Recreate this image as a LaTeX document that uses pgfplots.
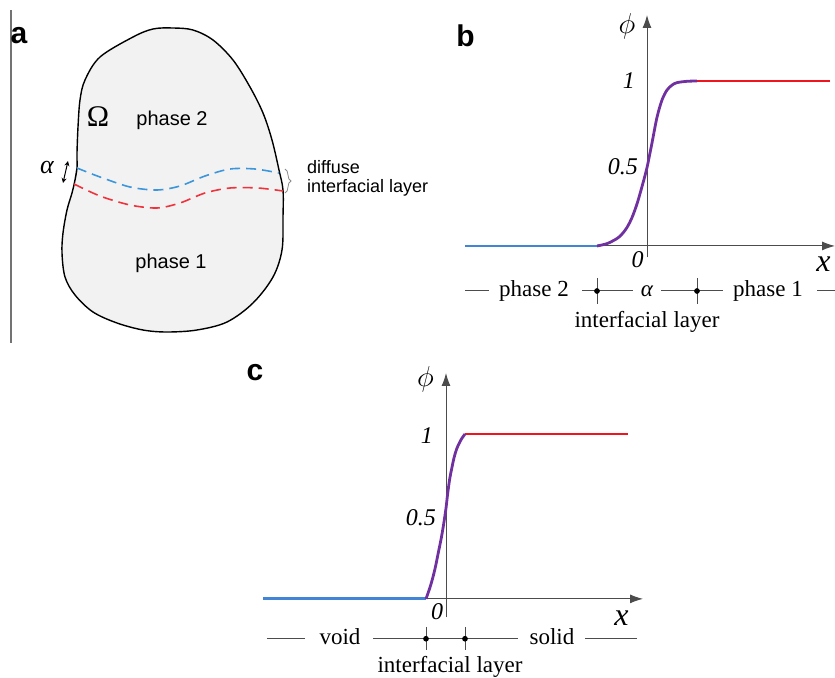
\documentclass[border=0pt]{standalone}
\usepackage{pgfplots}
\pgfplotsset{compat=1.18}
\usepackage{fontspec}
\setmainfont{Liberation Serif}
\newfontfamily\sansf{Liberation Sans}
\usetikzlibrary{arrows.meta,decorations.pathreplacing}
\definecolor{cblue}{RGB}{66,133,215}
\definecolor{cred}{RGB}{240,20,30}
\definecolor{cpurple}{RGB}{112,48,160}
\definecolor{cdblue}{RGB}{60,150,220}
\definecolor{cdred}{RGB}{240,50,60}
\definecolor{cfill}{RGB}{242,242,242}
\newcommand{\lab}{\fontsize{11.5}{13}\selectfont}
\newcommand{\num}{\fontsize{12}{14}\itshape\selectfont}
\begin{document}
\begin{tikzpicture}
\useasboundingbox (0,0) rectangle (417.5pt,-339pt);
% ---------------- panel a ----------------
\begin{axis}[at={(75pt,-86.25pt)}, anchor=center, scale only axis,
  width=150pt, height=172.5pt, xmin=0, xmax=300, ymin=0, ymax=345,
  y dir=reverse, hide axis, clip=false]
\addplot[smooth, tension=0.55, draw=black, line width=0.7pt, fill=cfill] coordinates {
 (77,168) (75,180) (72,193) (67,210) (63,233) (62,253) (65,277) (75,295) (93,312)
 (117,323) (143,330) (167,332) (197,330) (227,322) (253,303) (273,277) (282,250)
 (283,217) (283,190) (279,170) (272,140) (263,113) (250,87) (233,60) (213,40)
 (193,30) (173,28) (153,29) (133,37) (100,57) (85,80) (80,100) (78,127) (77,153)
 (77,168) (75,180)};
\addplot[smooth, cdblue, line width=0.8pt, dash pattern=on 5pt off 3pt] coordinates {
 (77,168) (100,177) (130,187) (157,190) (180,186) (205,176) (230,169) (255,169) (279,173)};
\addplot[smooth, cdred, line width=0.8pt, dash pattern=on 5pt off 3pt] coordinates {
 (74,184) (100,196) (130,205) (157,208) (180,203) (205,193) (230,188) (258,188) (283,191)};
\addplot[black!55, line width=0.9pt] coordinates {(11,10) (11,343)};
\draw[{Stealth[length=2.5pt,width=2.5pt]}-{Stealth[length=2.5pt,width=2.5pt]}, line width=0.5pt]
  (axis cs:68,161) -- (axis cs:63,183);
\draw[black!45, line width=0.4pt, decorate, decoration={brace, amplitude=3pt}]
  (axis cs:285,169) -- (axis cs:285,193);
\node[font=\fontsize{15}{16}\selectfont] at (axis cs:98,117) {Ω};
\node[font=\sansf\fontsize{10}{12}\selectfont] at (axis cs:172,120) {phase 2};
\node[font=\sansf\fontsize{10}{12}\selectfont] at (axis cs:171,263) {phase 1};
\node[font=\fontsize{13}{14}\itshape\selectfont] at (axis cs:47,168) {α};
\node[font=\sansf\fontsize{9}{10.5}\selectfont, anchor=west] at (axis cs:300,167) {diffuse};
\node[font=\sansf\fontsize{9}{10.5}\selectfont, anchor=west] at (axis cs:300,188) {interfacial layer};
\end{axis}
\node[font=\sansf\bfseries\fontsize{15}{16}\selectfont] at (9.5pt,-18pt) {a};
\node[font=\sansf\bfseries\fontsize{15}{16}\selectfont] at (232.75pt,-18pt) {b};
\node[font=\sansf\bfseries\fontsize{15}{16}\selectfont] at (127.5pt,-186.25pt) {c};
% ---------------- panel b ----------------
\begin{axis}[at={(232.5pt,-128.75pt)}, anchor=south west, scale only axis,
  width=185pt, height=121.25pt, xmin=-1.82, xmax=1.88, ymin=-0.07, ymax=1.4,
  axis lines=middle, axis line style={-{Latex[length=6.5pt,width=4.5pt]}, black!70, line width=0.5pt},
  xtick=\empty, ytick=\empty, clip=false]
\addplot[cblue, line width=1.4pt] coordinates {(-1.82,0) (-0.5,0)};
\addplot[cred, line width=1.4pt] coordinates {(0.5,1) (1.83,1)};
\addplot[cpurple, line width=1.4pt, smooth] coordinates {
 (-0.5,0) (-0.4,0.014) (-0.3,0.045) (-0.25,0.072) (-0.2,0.112) (-0.15,0.172)
 (-0.1,0.255) (-0.05,0.36) (0,0.475) (0.05,0.625) (0.1,0.78) (0.15,0.885)
 (0.2,0.945) (0.25,0.975) (0.3,0.99) (0.4,0.998) (0.5,1)};
\node[font=\num, anchor=east] at (axis cs:-0.05,1) {1};
\node[font=\num, anchor=east] at (axis cs:-0.02,0.48) {0.5};
\node[font=\num] at (axis cs:-0.095,-0.08) {0};
\node[font=\fontsize{16}{17}\itshape\selectfont] at (axis cs:1.765,-0.11) {x};
\node[font=\fontsize{15}{16}\selectfont] at (axis cs:-0.2,1.33) {$\phi$};
% annotation
\addplot[black!70, line width=0.5pt] coordinates {(-1.82,-0.273) (-1.58,-0.273)};
\addplot[black!70, line width=0.5pt] coordinates {(-0.65,-0.273) (-0.14,-0.273)};
\addplot[black!70, line width=0.5pt] coordinates {(0.14,-0.273) (0.76,-0.273)};
\addplot[black!70, line width=0.5pt] coordinates {(1.70,-0.273) (1.88,-0.273)};
\addplot[black!70, line width=0.5pt] coordinates {(-0.5,-0.194) (-0.5,-0.352)};
\addplot[black!70, line width=0.5pt] coordinates {(0.5,-0.194) (0.5,-0.352)};
\addplot[only marks, mark=*, mark size=1.2pt, black] coordinates {(-0.5,-0.273) (0.5,-0.273)};
\node[font=\lab, anchor=base] at (axis cs:-1.13,-0.309) {phase 2};
\node[font=\lab\itshape, anchor=base] at (axis cs:0,-0.309) {α};
\node[font=\lab, anchor=base] at (axis cs:1.21,-0.309) {phase 1};
\node[font=\lab, anchor=base] at (axis cs:0,-0.497) {interfacial layer};
\end{axis}
% ---------------- panel c ----------------
\begin{axis}[at={(131.5pt,-308.5pt)}, anchor=south west, scale only axis,
  width=190pt, height=122pt, xmin=-1.83, xmax=1.97, ymin=-0.11, ymax=1.37,
  axis lines=middle, axis line style={-{Latex[length=6.5pt,width=4.5pt]}, black!70, line width=0.5pt},
  xtick=\empty, ytick=\empty, clip=false]
\addplot[cblue, line width=1.4pt] coordinates {(-1.83,0) (-0.2,0)};
\addplot[cred, line width=1.4pt] coordinates {(0.19,1) (1.82,1)};
\addplot[cpurple, line width=1.4pt, smooth] coordinates {
 (-0.2,0) (-0.16,0.07) (-0.127,0.14) (-0.1,0.21) (-0.077,0.28) (-0.05,0.36)
 (-0.027,0.44) (0,0.55) (0.013,0.62) (0.035,0.72) (0.057,0.79) (0.08,0.855)
 (0.107,0.91) (0.15,0.965) (0.19,1)};
\node[font=\num, anchor=east] at (axis cs:-0.06,0.99) {1};
\node[font=\num, anchor=east] at (axis cs:-0.03,0.49) {0.5};
\node[font=\num] at (axis cs:-0.09,-0.076) {0};
\node[font=\fontsize{16}{17}\itshape\selectfont] at (axis cs:1.755,-0.12) {x};
\node[font=\fontsize{15}{16}\selectfont] at (axis cs:-0.205,1.33) {$\phi$};
% annotation
\addplot[black!70, line width=0.5pt] coordinates {(-1.79,-0.242) (-1.41,-0.242)};
\addplot[black!70, line width=0.5pt] coordinates {(-0.73,-0.242) (0.72,-0.242)};
\addplot[black!70, line width=0.5pt] coordinates {(1.39,-0.242) (1.91,-0.242)};
\addplot[black!70, line width=0.5pt] coordinates {(-0.2,-0.17) (-0.2,-0.309)};
\addplot[black!70, line width=0.5pt] coordinates {(0.19,-0.17) (0.19,-0.309)};
\addplot[only marks, mark=*, mark size=1.2pt, black] coordinates {(-0.2,-0.242) (0.19,-0.242)};
\node[font=\lab, anchor=base] at (axis cs:-1.06,-0.279) {void};
\node[font=\lab, anchor=base] at (axis cs:1.06,-0.279) {solid};
\node[font=\lab, anchor=base] at (axis cs:0.04,-0.448) {interfacial layer};
\end{axis}
\end{tikzpicture}
\end{document}
